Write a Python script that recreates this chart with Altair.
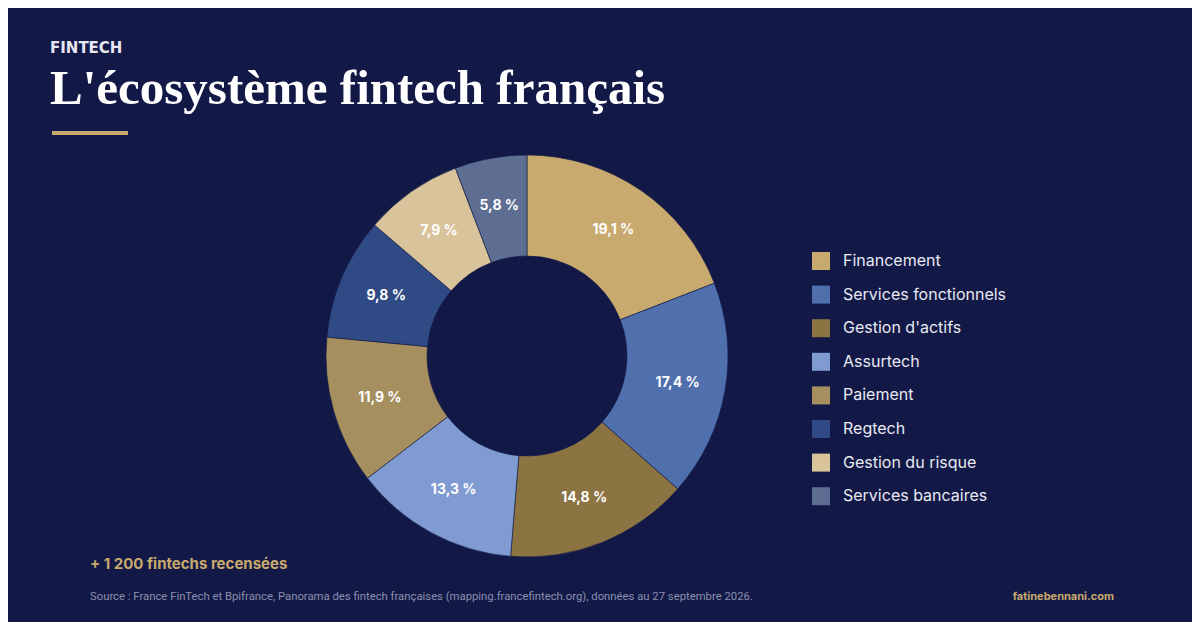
import altair as alt
import pandas as pd

categories = ["Financement", "Services fonctionnels", "Gestion d'actifs", "Assurtech",
              "Paiement", "Regtech", "Gestion du risque", "Services bancaires"]
shares = [19.1, 17.4, 14.8, 13.3, 11.9, 9.8, 7.9, 5.8]
labels = ["19,1 %", "17,4 %", "14,8 %", "13,3 %", "11,9 %", "9,8 %", "7,9 %", "5,8 %"]
colors = ["#C8A96E", "#4F6FAD", "#8B7342", "#7F9BD2", "#A68F5E", "#2F4A85", "#D9C39A", "#5D6E92"]

KICKER = "FINTECH"
TITLE = "L'écosystème fintech français"
HIGHLIGHT = "+ 1 200 fintechs recensées"
SOURCE = ("Source : France FinTech et Bpifrance, Panorama des fintech françaises "
          "(mapping.francefintech.org), données au 27 septembre 2026.")
SITE = "fatinebennani.com"

BG = "#131947"
GOLD = "#C8A96E"

df = pd.DataFrame({"cat": categories, "share": shares, "label": labels,
                   "idx": list(range(len(categories)))})

CX, CY = 519, 348

color_scale = alt.Scale(domain=categories, range=colors)

arcs = alt.Chart(df).mark_arc(outerRadius=201, innerRadius=100, stroke=BG, strokeWidth=0.6).encode(
    theta=alt.Theta("share:Q", stack=True),
    color=alt.Color("cat:N", scale=color_scale, sort=categories,
                    legend=alt.Legend(title=None, orient="none", legendX=804, legendY=244,
                                      symbolType="square", symbolSize=324, symbolStrokeWidth=0,
                                      symbolOpacity=1, labelFontSize=16, labelFont="Inter",
                                      labelColor="#E8E9F2", labelOffset=13, rowPadding=15.6,
                                      labelLimit=400, padding=0)),
    order=alt.Order("idx:Q"),
    x=alt.value(CX), y=alt.value(CY),
)

texts = alt.Chart(df).mark_text(radius=153, font="Inter", fontSize=14, fontWeight="bold",
                                color="white").encode(
    theta=alt.Theta("share:Q", stack=True),
    order=alt.Order("idx:Q"),
    text="label:N",
    x=alt.value(CX), y=alt.value(CY),
)

def txt(s, x, y, **kw):
    return alt.Chart(pd.DataFrame({"t": [s]})).mark_text(**kw).encode(
        text="t:N", x=alt.value(x), y=alt.value(y))

kicker = txt(KICKER, 42, 45, align="left", baseline="alphabetic", font="DejaVu Sans", fontSize=15,
             fontWeight="bold", color="#E8E6F0")
title = txt(TITLE, 42, 96, align="left", baseline="alphabetic", font="Liberation Serif",
            fontSize=49, fontWeight="bold", color="white")
rule = alt.Chart(pd.DataFrame({"a": [0]})).mark_rule(color=GOLD, strokeWidth=4).encode(
    x=alt.value(44), x2=alt.value(120), y=alt.value(125))
highlight = txt(HIGHLIGHT, 82, 561, align="left", baseline="alphabetic", font="Inter",
                fontSize=15, fontWeight="bold", color=GOLD)
source = txt(SOURCE, 82, 592, align="left", baseline="alphabetic", font="Roboto",
             fontSize=11.3, color="#8A8FAE")
site = txt(SITE, 1106, 592, align="right", baseline="alphabetic", font="Inter",
           fontSize=11, fontWeight="bold", color=GOLD)

chart = alt.layer(arcs, texts, kicker, title, rule, highlight, source, site).properties(
    width=1184, height=614,
    autosize=alt.AutoSizeParams(type="fit", contains="padding"),
    padding=0,
).configure(background=BG).configure_view(strokeWidth=0)

chart.save("out.html", embed_options={"renderer": "svg", "actions": False})
